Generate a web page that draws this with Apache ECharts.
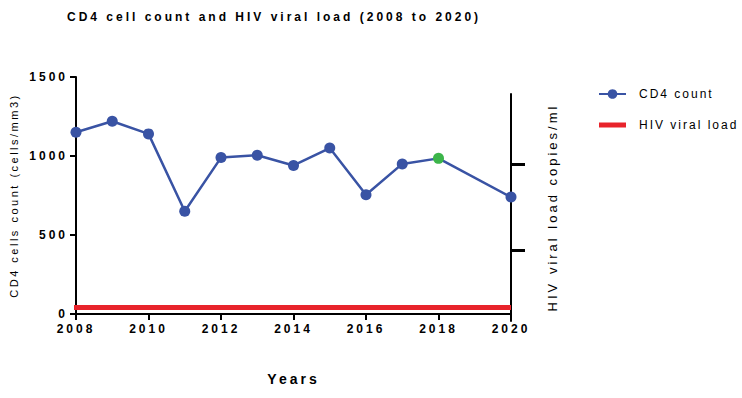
<!DOCTYPE html>
<html>
<head>
<meta charset="utf-8">
<script src="https://cdn.jsdelivr.net/npm/echarts@6/dist/echarts.min.js"></script>
<style>
  html, body { margin: 0; padding: 0; background: #fff; }
  #chart { width: 742px; height: 398px; }
</style>
</head>
<body>
<div id="chart"></div>
<script>
// CD4 counts per year (no measurement for 2019)
const years = [2008, 2009, 2010, 2011, 2012, 2013, 2014, 2015, 2016, 2017, 2018, 2020]
const cd4Count = [1150, 1220, 1140, 650, 990, 1005, 940, 1050, 755, 950, 985, 740]
const highlightYear = 2018

// viral load stays flat (undetectable) over the whole period
const viralYears = [2008, 2020]
const viralLoad = [60, 60]

const yearTicks = [2008, 2010, 2012, 2014, 2016, 2018, 2020]
const cd4Ticks = [0, 500, 1000, 1500]
const viralTicks = [310, 690]

const black = '#000'
const font = 'Liberation Sans, Arial, sans-serif'

let myChart = echarts.init(document.getElementById('chart'), null, { renderer: 'svg' })

let cd4Data = years.map((y, i) => {
  let item = { value: [y, cd4Count[i]] }
  if (y === highlightYear) {
    item.itemStyle = { color: '#3cb54a' }
  }
  return item
})

let opt = {
  animation: false,
  backgroundColor: '#fff',
  textStyle: { fontFamily: font, color: black },
  title: {
    text: 'CD4 cell count and HIV viral load (2008 to 2020)',
    left: 62,
    top: 6,
    textStyle: { fontSize: 12, fontWeight: 'bold', color: black, fontFamily: font }
  },
  legend: {
    orient: 'vertical',
    left: 593,
    top: 83,
    itemWidth: 27,
    itemHeight: 12,
    itemGap: 19,
    textStyle: { fontSize: 12, color: black, fontFamily: font, padding: [0, 0, 0, 8] },
    data: [
      'CD4 count',
      { name: 'HIV viral load', icon: 'path://M0,0H27V5H0Z' }
    ]
  },
  grid: [
    { left: 74, right: 231, top: 77, bottom: 84 },
    { left: 74, right: 231, top: 94, bottom: 77 }
  ],
  xAxis: [
    {
      gridIndex: 0,
      type: 'value',
      min: yearTicks[0],
      max: yearTicks[yearTicks.length - 1],
      interval: 2,
      name: 'Years',
      nameLocation: 'middle',
      nameGap: 58,
      nameTextStyle: { fontSize: 14, fontWeight: 'bold', color: black },
      axisLine: { lineStyle: { color: black, width: 2 } },
      axisTick: { show: true, length: 6, lineStyle: { color: black, width: 2 } },
      axisLabel: {
        fontSize: 12,
        fontWeight: 'bold',
        color: black,
        margin: 9,
        formatter: v => String(v)
      },
      splitLine: { show: false }
    },
    {
      gridIndex: 1,
      type: 'value',
      min: yearTicks[0],
      max: yearTicks[yearTicks.length - 1],
      show: false
    }
  ],
  yAxis: [
    {
      gridIndex: 0,
      type: 'value',
      min: cd4Ticks[0],
      max: cd4Ticks[cd4Ticks.length - 1],
      interval: 500,
      name: 'CD4 cells count (cells/mm3)',
      nameLocation: 'middle',
      nameGap: 57,
      nameTextStyle: { fontSize: 11, color: black },
      axisLine: { show: true, lineStyle: { color: black, width: 2 } },
      axisTick: { show: true, length: 6, lineStyle: { color: black, width: 2 } },
      axisLabel: {
        fontSize: 12,
        fontWeight: 'bold',
        color: black,
        margin: 8,
        formatter: v => String(v)
      },
      splitLine: { show: false }
    },
    {
      gridIndex: 1,
      type: 'value',
      position: 'right',
      min: 0,
      max: 1000,
      name: 'HIV viral load copies/ml',
      nameLocation: 'middle',
      nameGap: 35,
      nameTextStyle: { fontSize: 13, color: black },
      axisLine: { show: true, lineStyle: { color: black, width: 2 } },
      axisTick: {
        show: true,
        length: 14,
        customValues: viralTicks,
        lineStyle: { color: black, width: 3 }
      },
      axisLabel: { show: false, customValues: viralTicks },
      splitLine: { show: false }
    }
  ],
  series: [
    {
      name: 'CD4 count',
      type: 'line',
      xAxisIndex: 0,
      yAxisIndex: 0,
      data: cd4Data,
      symbol: 'circle',
      symbolSize: 11,
      itemStyle: { color: '#3953a4' },
      lineStyle: { color: '#3953a4', width: 2.5 },
      z: 3
    },
    {
      name: 'HIV viral load',
      type: 'line',
      xAxisIndex: 1,
      yAxisIndex: 1,
      data: viralYears.map((y, i) => [y, viralLoad[i]]),
      symbol: 'none',
      symbolKeepAspect: true,
      itemStyle: { color: '#e8232b' },
      lineStyle: { color: '#e8232b', width: 5 },
      z: 2
    }
  ]
}

// the original figure uses widely spaced letters
function spaceText () {
  let texts = document.querySelectorAll('#chart svg text')
  texts.forEach(t => {
    let cs = getComputedStyle(t)
    let size = parseFloat(cs.fontSize)
    let bold = parseInt(cs.fontWeight) >= 600 || cs.fontWeight === 'bold'
    let sp = 2
    if (bold || size >= 13) sp = 3
    else if (size <= 11) sp = 2.5
    t.style.letterSpacing = sp + 'px'
  })
}

myChart.on('finished', spaceText)
myChart.setOption(opt)
spaceText()
window.addEventListener('resize', () => myChart.resize())
</script>
</body>
</html>
